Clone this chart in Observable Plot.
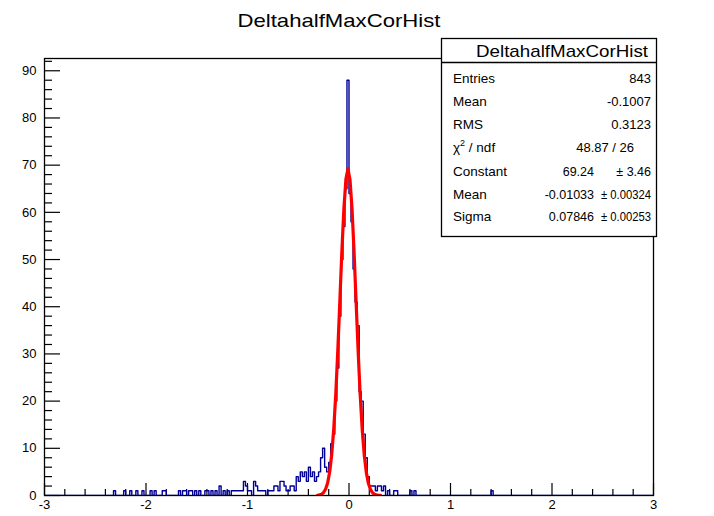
<!DOCTYPE html>
<html><head><meta charset="utf-8">
<script src="https://cdn.jsdelivr.net/npm/d3@7"></script>
<script src="https://cdn.jsdelivr.net/npm/@observablehq/plot@0.6"></script>
<style>body{margin:0;background:#fff;} #chart{width:714px;height:516px;}</style>
</head><body><div id="chart"></div>
<script>
// ---- data ----
const histTitle = "DeltahalfMaxCorHist";
const binWidth = 0.02;
const xRange = [-3, 3];
const yRange = [0, 92.6];
const binCenters = [
  -2.31,-2.21,-2.15,-2.09,-2.03,-1.95,-1.91,-1.83,-1.81,-1.67,-1.63,-1.61,-1.57,-1.55,-1.51,-1.47,-1.41,-1.39,-1.35,-1.31,
  -1.27,-1.23,-1.19,-1.15,-1.13,-1.11,-1.09,-1.07,-1.05,-1.03,-1.01,-0.99,-0.97,-0.93,-0.91,-0.89,-0.87,-0.85,-0.83,
  -0.79,-0.77,-0.75,-0.73,-0.71,-0.69,-0.67,-0.65,-0.63,-0.61,-0.59,-0.57,-0.55,-0.53,-0.51,-0.49,-0.47,-0.45,-0.43,-0.41,
  -0.39,-0.37,-0.35,-0.33,-0.31,-0.29,-0.27,-0.25,-0.23,-0.21,-0.19,-0.17,-0.15,-0.13,-0.11,-0.09,-0.07,-0.05,-0.03,-0.01,
  0.01,0.03,0.05,0.07,0.09,0.11,0.13,0.15,0.17,0.19,0.21,0.23,0.25,0.27,0.29,0.31,0.33,0.35,0.39,0.45,0.47,0.61,0.65,1.41
];
const binCounts = [
  1,1,1,1,1,1,1,1,1,1,1,1,1,1,1,1,1,1,1,1,
  2,1,1,1,1,1,1,1,1,3,2,1,1,3,2,1,1,1,1,
  1,1,1,2,2,1,3,3,2,1,1,2,2,1,4,3,5,4,5,3,
  6,4,5,3,4,5,8,10,6,5,7,11,13,20,27,38,50,57,65,88,
  64,58,48,41,36,22,20,13,8,4,2,2,2,1,2,2,1,2,1,1,1,1,1,1
];
const fitX = [-0.31,-0.29,-0.27,-0.25,-0.23,-0.21,-0.19,-0.17,-0.15,-0.13,-0.11,-0.09,-0.07,-0.05,-0.03,-0.01,
  0.01,0.03,0.05,0.07,0.09,0.11,0.13,0.15,0.17,0.19,0.21,0.23,0.25,0.27,0.29,0.31];
const fitY = [0.05,0.12,0.29,0.65,1.38,2.72,5.04,8.75,14.2,21.6,30.9,41.3,51.9,60.9,67.1,69.2,
  66.9,60.7,51.6,41.0,30.6,21.4,14.0,8.6,4.95,2.67,1.35,0.64,0.28,0.12,0.05,0.02];
const xMajorTicks = [-3,-2,-1,0,1,2,3];
const yMajorTicks = [0,10,20,30,40,50,60,70,80,90];
const statLabels = ["Entries","Mean","RMS","χ2 / ndf","Constant","Mean","Sigma"];
const statValues = ["843","-0.1007","0.3123","48.87 / 26","69.24","-0.01033","0.07846"];
const statErrors = ["","","","","± 3.46","± 0.00324","± 0.00253"];

// ---- derived tables ----
const nBins = Math.round((xRange[1]-xRange[0])/binWidth);
const counts = new Array(nBins).fill(0);
binCenters.forEach((c,i)=>{ counts[Math.floor((c - xRange[0])/binWidth)] = binCounts[i]; });
const histPts = [{x:xRange[0], y:0}];
counts.forEach((v,i)=>{ const lo = xRange[0]+i*binWidth; histPts.push({x:lo,y:v},{x:lo+binWidth,y:v}); });
histPts.push({x:xRange[1], y:0});
const fitPts = fitX.map((x,i)=>({x, y:fitY[i]}));
const xMinor = d3.range(-30,31,2).map(k=>k/10).filter(v=>Math.abs(v-Math.round(v))>1e-6);
const yMinor = d3.range(0,93,2).filter(v=>v%10!==0);

const W=714, H=516, mL=44, mR=61, mT=58, mB=21;
const fw = W-mL-mR, fh = H-mT-mB;
const font = "'Liberation Sans', Arial, Helvetica, sans-serif";

const plot = Plot.plot({
  width: W, height: H, marginLeft: mL, marginRight: mR, marginTop: mT, marginBottom: mB,
  style: {fontFamily: font, fontSize: "13px", color: "#000", background: "#fff", overflow: "visible"},
  x: {domain: xRange},
  y: {domain: yRange},
  marks: [
    Plot.ruleX(xMinor, {stroke: "#000", strokeWidth: 1.2, insetTop: fh-6}),
    Plot.ruleX(xMajorTicks, {stroke: "#000", strokeWidth: 1.2, insetTop: fh-12}),
    Plot.ruleY(yMinor, {stroke: "#000", strokeWidth: 1.2, insetRight: fw-8}),
    Plot.ruleY(yMajorTicks, {stroke: "#000", strokeWidth: 1.2, insetRight: fw-16}),
    Plot.axisX(xMajorTicks, {tickSize: 0, tickPadding: 4, label: null, tickFormat: d => String(d), fontSize: 13}),
    Plot.axisY(yMajorTicks, {tickSize: 0, tickPadding: 8, label: null, tickFormat: d => String(d), fontSize: 13}),
    Plot.line(histPts, {x: "x", y: "y", stroke: "#000099", strokeWidth: 1.4, clip: true}),
    Plot.line(fitPts, {x: "x", y: "y", stroke: "#ff0000", strokeWidth: 3.2, clip: true}),
    Plot.frame({stroke: "#000", strokeWidth: 1.3})
  ]
});
document.getElementById("chart").appendChild(plot);

// ---- title and statistics box ----
const svg = d3.select(plot);
svg.append("text").attr("x", 339).attr("y", 27).attr("text-anchor", "middle")
  .attr("font-family", font).attr("font-size", 19).attr("fill", "#000")
  .attr("textLength", 203).attr("lengthAdjust", "spacingAndGlyphs").text(histTitle);

const g = svg.append("g").attr("font-family", font).attr("fill", "#000").attr("text-anchor", "start");
g.append("rect").attr("x", 441.5).attr("y", 38.5).attr("width", 215).attr("height", 198)
  .attr("fill", "#fff").attr("stroke", "#000").attr("stroke-width", 1.3);
g.append("line").attr("x1", 441.5).attr("x2", 656.5).attr("y1", 62.5).attr("y2", 62.5)
  .attr("stroke", "#000").attr("stroke-width", 1.3);
g.append("text").attr("x", 562).attr("y", 57).attr("text-anchor", "middle").attr("font-size", 17)
  .attr("textLength", 172).attr("lengthAdjust", "spacingAndGlyphs").text(histTitle);
const rowY = [83, 106, 129, 152, 175.5, 198.5, 221];
const lfs = 13.5, vfs = 12.5;
statLabels.forEach((lab, i) => {
  const t = g.append("text").attr("x", 453).attr("y", rowY[i]).attr("font-size", lfs).attr("text-anchor", "start");
  if (lab.startsWith("χ2")) {
    t.append("tspan").text("χ");
    t.append("tspan").attr("font-size", 9).attr("dy", -6).text("2");
    t.append("tspan").attr("dy", 6).text(" / ndf");
  } else t.text(lab);
  if (statErrors[i]) {
    const short = statErrors[i].length <= 6;
    g.append("text").attr("x", short ? 594 : 594).attr("y", rowY[i]).attr("text-anchor", "end").attr("font-size", vfs).text(statValues[i]);
    const e = g.append("text").attr("x", 651).attr("y", rowY[i]).attr("text-anchor", "end").attr("font-size", vfs);
    if (!short) e.attr("textLength", 50).attr("lengthAdjust", "spacingAndGlyphs");
    e.text(statErrors[i]);
  } else {
    g.append("text").attr("x", i === 3 ? 634 : 651).attr("y", rowY[i]).attr("text-anchor", "end").attr("font-size", 13).text(statValues[i]);
  }
});
</script></body></html>
